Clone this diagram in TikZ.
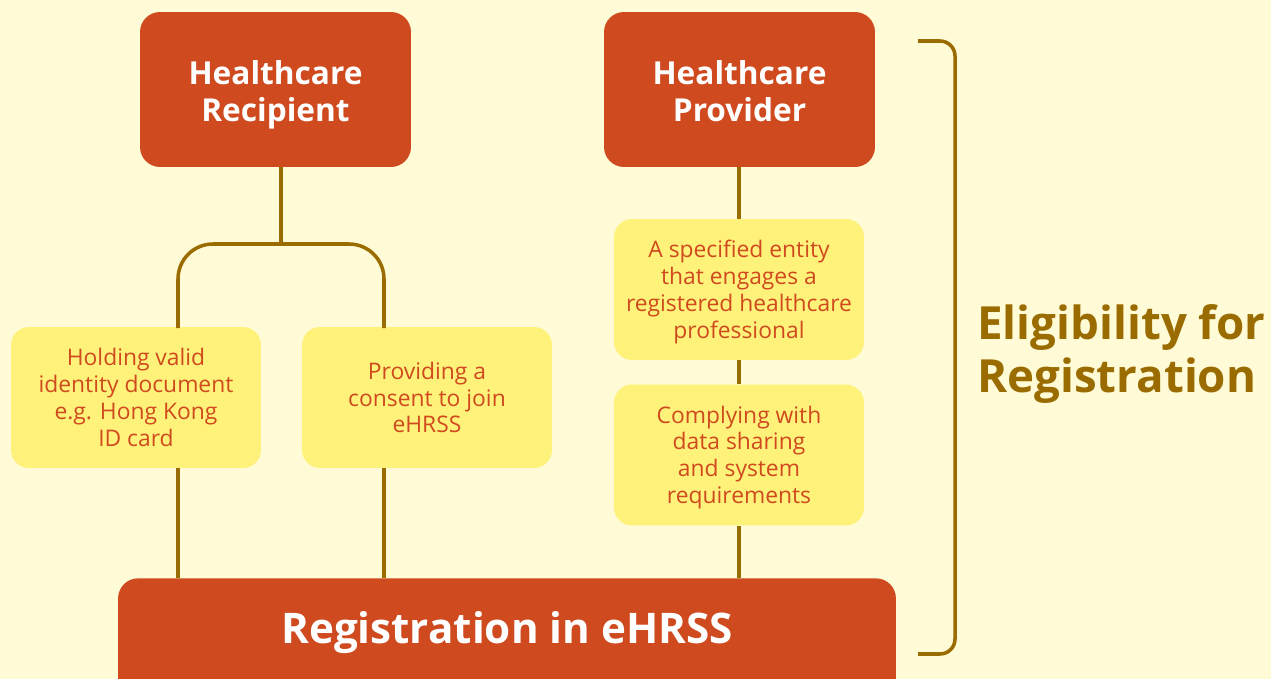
\documentclass[tikz,border=0pt]{standalone}
\usepackage{fontspec}
\setmainfont{Open Sans}
\definecolor{ehrred}{RGB}{207, 74, 30}
\definecolor{ehryellow}{RGB}{255, 242, 122}
\definecolor{ehrcream}{RGB}{255, 251, 214}
\definecolor{ehrgold}{RGB}{154, 108, 0}
\usetikzlibrary{positioning, calc}

\newcommand{\lowered}[2]{\raisebox{-#1}[\height][\depth]{\begin{tabular}{@{}c@{}}#2\end{tabular}}}

\tikzset{
  partybox/.style={fill=ehrred, rounded corners=0.4cm, minimum width=5.42cm, minimum height=3.1cm,
    text=white, align=center, font=\fontsize{18}{21}\selectfont\bfseries},
  rulebox/.style={fill=ehryellow, rounded corners=0.36cm, minimum width=5cm, minimum height=2.82cm,
    text=ehrred, align=center, inner sep=0pt, font=\fontsize{13}{15.3}\selectfont},
  link/.style={draw=ehrgold, line width=2pt},
}

\begin{document}
\begin{tikzpicture}[x=0.02cm, y=-0.02cm]
  % page
  \fill[ehrcream] (0,0) rectangle (1271,679);
  \useasboundingbox (0,0) rectangle (1271,679);

  % Recipient side
  \node[partybox] (rec) at (275.5, 89.5) {\lowered{0.12cm}{Healthcare\\Recipient}};
  \node[rulebox] (hold) at (136, 397.5) {Holding valid\\identity document\\e.g. Hong Kong\\ID card};
  \node[rulebox] (consent) at (427, 397.5) {Providing a\\consent to join\\eHRSS};

  % Provider side
  \node[partybox] (prov) at (739.5, 89.5) {\lowered{0.12cm}{Healthcare\\Provider}};
  \node[rulebox] (spec) at (739, 289.5) {\lowered{0.06cm}{A specified entity\\that engages a\\registered healthcare\\professional}};
  \node[rulebox] (comply) at (739, 455) {\lowered{0.06cm}{Complying with\\data sharing\\and system\\requirements}};

  % Registration bar
  \node[fill=ehrred, rounded corners=0.4cm, minimum width=15.56cm, minimum height=2.8cm, anchor=north,
    label={[text=white, font=\fontsize{24}{30}\selectfont\bfseries, yshift=0.32cm]center:Registration in eHRSS}]
    (reg) at (507, 578) {};

  % connectors
  \coordinate (bar) at (281, 244);
  \coordinate (legL) at (178, 328);
  \coordinate (legR) at (384, 328);
  \draw[link] (rec.south -| bar) -- (bar);
  \draw[link, rounded corners=0.7cm] (legL) |- (bar) -| (legR);
  \draw[link] (hold.south -| legL) -- (reg.north -| legL);
  \draw[link] (consent.south -| legR) -- (reg.north -| legR);
  \draw[link] (prov.south -| spec.north) -- (spec.north);
  \draw[link] (spec.south) -- (comply.north);
  \draw[link] (comply.south) -- (reg.north -| comply.south);

  % bracket
  \coordinate (brtop) at (918, 41);
  \coordinate (brbot) at (918, 654);
  \draw[link, rounded corners=0.3cm] (brtop) -- ++(37,0) |- (brbot);
  \node[anchor=west, align=left, text=ehrgold, font=\fontsize{26}{30.6}\selectfont\bfseries, inner sep=0pt]
    (elig) at (977, 354) {Eligibility for\\Registration};
\end{tikzpicture}
\end{document}
